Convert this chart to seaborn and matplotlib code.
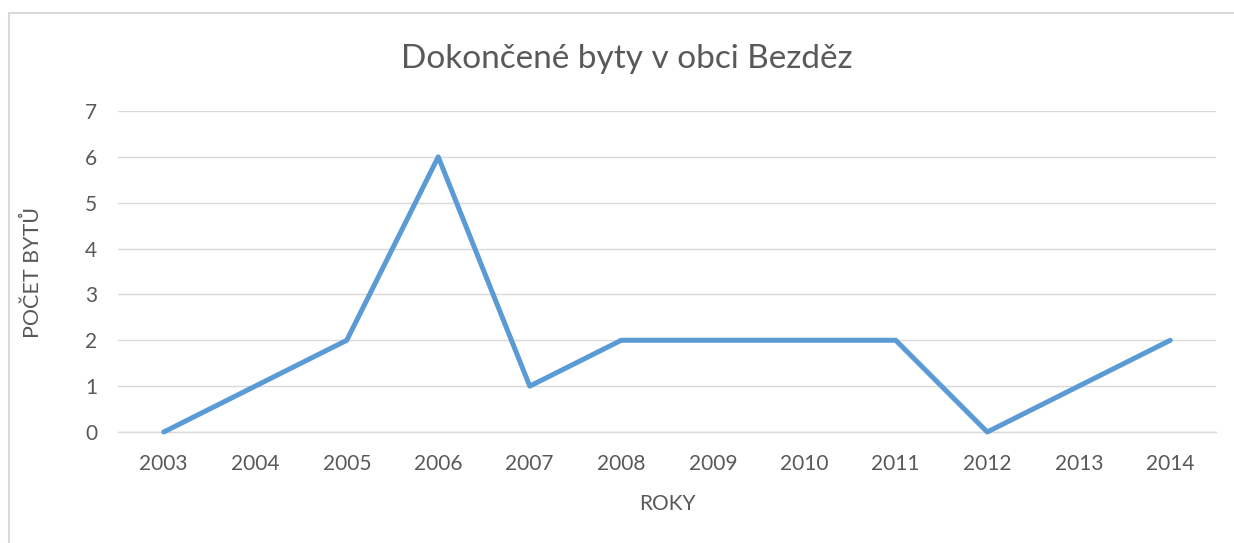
import matplotlib
matplotlib.use("Agg")
import matplotlib.pyplot as plt
import seaborn as sns
import pandas as pd
from matplotlib.patches import Rectangle

years = ["2003", "2004", "2005", "2006", "2007", "2008", "2009", "2010", "2011", "2012", "2013", "2014"]
values = [0, 1, 2, 6, 1, 2, 2, 2, 2, 0, 1, 2]
y_ticks = [0, 1, 2, 3, 4, 5, 6, 7]
title = "Dokončené byty v obci Bezděz"
x_label = "ROKY"
y_label = "POČET BYTŮ"

sns.set_theme(style="white")
plt.rcParams['font.family'] = ['Lato', 'DejaVu Sans']

W, H = 1234, 543
fig = plt.figure(figsize=(W / 100, H / 100), dpi=100)
ax = fig.add_axes([118 / W, 1 - 432 / H, (1216 - 118) / W, (432 - 111) / H])

df = pd.DataFrame({"year": years, "value": values})
sns.lineplot(data=df, x="year", y="value", ax=ax, color="#5B9BD5", linewidth=3.6,
             solid_capstyle="round", solid_joinstyle="round", clip_on=False, zorder=3)

ax.set_xlim(-0.5, len(years) - 0.5)
ax.set_ylim(0, 7)
ax.set_yticks(y_ticks)
ax.grid(axis="y", color="#D9D9D9", linewidth=1.0)
ax.grid(axis="x", visible=False)
for s in ["top", "right", "left"]:
    ax.spines[s].set_visible(False)
ax.spines["bottom"].set_color("#D9D9D9")
ax.spines["bottom"].set_linewidth(1.0)
ax.tick_params(axis="both", length=0, labelcolor="#595959", labelsize=15)
ax.tick_params(axis="y", pad=15)
ax.tick_params(axis="x", pad=16)

ax.set_xlabel("")
ax.set_ylabel("")
fig.text(667 / W, 1 - 504 / H, x_label, ha="center", va="center", color="#595959", fontsize=15)
fig.text(33 / W, 1 - 272 / H, y_label, ha="center", va="center", rotation=90, color="#595959", fontsize=15.5)
fig.text(627 / W, 1 - 59 / H, title, ha="center", va="center", color="#595959", fontsize=24)

fig.patches.append(Rectangle((9 / W, -0.05), 1.1, 1 - 13 / H + 0.05, transform=fig.transFigure,
                             fill=False, edgecolor="#D9D9D9", linewidth=1.5))

fig.savefig("out.png", dpi=100)
